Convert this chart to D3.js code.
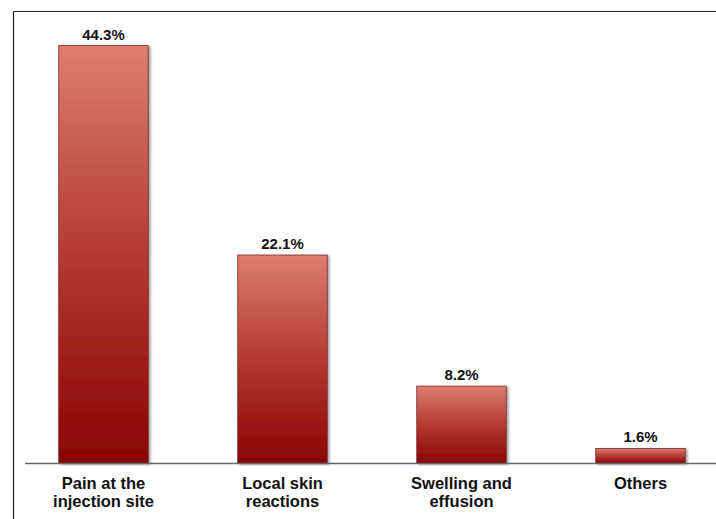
<!DOCTYPE html>
<html>
<head>
<meta charset="utf-8">
<script src="https://cdn.jsdelivr.net/npm/d3@7"></script>
<style>
body { margin: 0; background: #fff; }
text { font-family: "Liberation Sans", Arial, sans-serif; font-weight: bold; fill: #111; }
</style>
</head>
<body>
<div class="container"></div>
<script>
var w = 716,
h = 519;

var categories = [["Pain at the", "injection site"], ["Local skin", "reactions"], ["Swelling and", "effusion"], ["Others"]];
var values = [44.3, 22.1, 8.2, 1.6];
var valueLabels = ["44.3%", "22.1%", "8.2%", "1.6%"];

var svg = d3.select('.container')
.append('svg')
.attr('width', w)
.attr('height', h);

var defs = svg.append('defs');
var grad = defs.append('linearGradient')
.attr('id', 'barGrad')
.attr('x1', 0).attr('y1', 0).attr('x2', 0).attr('y2', 1);
grad.append('stop').attr('offset', '0%').attr('stop-color', '#dd7e70');
grad.append('stop').attr('offset', '50%').attr('stop-color', '#b43a33');
grad.append('stop').attr('offset', '100%').attr('stop-color', '#8a0303');

var shadow = defs.append('filter').attr('id', 'shadow')
.attr('x', '-10%').attr('y', '-10%').attr('width', '130%').attr('height', '130%');
shadow.append('feDropShadow')
.attr('dx', 2).attr('dy', 1).attr('stdDeviation', 1.2)
.attr('flood-color', '#000').attr('flood-opacity', 0.35);

// frame
svg.append('line').attr('x1', 13.5).attr('y1', 11.5).attr('x2', w).attr('y2', 11.5)
.attr('stroke', '#222').attr('stroke-width', 1.2);
svg.append('line').attr('x1', 13.5).attr('y1', 11.5).attr('x2', 13.5).attr('y2', h)
.attr('stroke', '#222').attr('stroke-width', 1.2);

var xScale = d3.scaleBand()
.domain(d3.range(values.length))
.range([14, 730])
.paddingInner(0.5)
.paddingOuter(0.25);

var yScale = d3.scaleLinear()
.domain([0, 45])
.range([463.5, 39]);

svg.selectAll('rect.bar')
.data(values)
.enter()
.append('rect')
.attr('class', 'bar')
.attr('x', (d, i) => xScale(i))
.attr('y', d => yScale(d))
.attr('width', xScale.bandwidth())
.attr('height', d => yScale(0) - yScale(d))
.attr('fill', 'url(#barGrad)')
.attr('stroke', '#7a2a26')
.attr('stroke-width', 0.8)
.attr('filter', 'url(#shadow)');

// baseline
svg.append('line').attr('x1', 25).attr('y1', yScale(0)).attr('x2', w).attr('y2', yScale(0))
.attr('stroke', '#666').attr('stroke-width', 1.3);

svg.selectAll('text.val')
.data(values)
.enter()
.append('text')
.attr('class', 'val')
.attr('x', (d, i) => xScale(i) + xScale.bandwidth() / 2)
.attr('y', d => yScale(d) - 6)
.attr('text-anchor', 'middle')
.style('font-size', '15px')
.text((d, i) => valueLabels[i]);

var catGroups = svg.selectAll('text.cat')
.data(categories)
.enter()
.append('text')
.attr('class', 'cat')
.attr('text-anchor', 'middle')
.style('font-size', '16.5px');

catGroups.selectAll('tspan')
.data((d, i) => d.map(line => ({line: line, i: i})))
.enter()
.append('tspan')
.attr('x', d => xScale(d.i) + xScale.bandwidth() / 2)
.attr('y', (d, j) => 488.5 + j * 18.5)
.text(d => d.line);
</script>
</body>
</html>
